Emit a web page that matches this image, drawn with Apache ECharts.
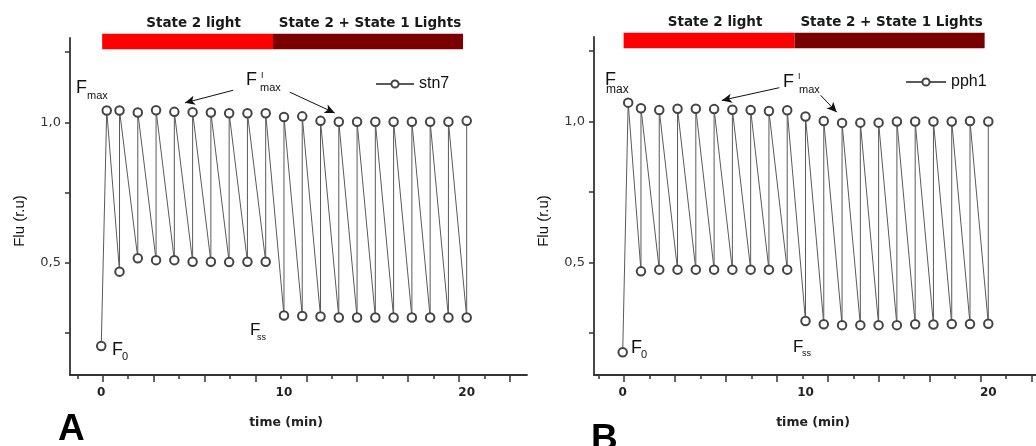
<!DOCTYPE html>
<html>
<head>
<meta charset="utf-8">
<script src="https://cdn.jsdelivr.net/npm/echarts@6/dist/echarts.min.js"></script>
<style>
html,body{margin:0;padding:0;background:#fff;}
#chart{width:1036px;height:446px;}
</style>
</head>
<body>
<div id="chart"></div>
<script>
// ---- data ----
const times = [1,2,3,4,5,6,7,8,9,10,11,12,13,14,15,16,17,18,19,20];
const fmaxTime = 0.3;

const stn7F0 = 0.203;
const stn7Fmax = 1.042;
const stn7Fs = [0.468,0.516,0.509,0.509,0.503,0.503,0.502,0.503,0.503,0.312,0.310,0.308,0.305,0.305,0.305,0.305,0.305,0.305,0.305,0.305];
const stn7Fm = [1.042,1.035,1.043,1.037,1.036,1.035,1.032,1.032,1.032,1.019,1.021,1.005,1.002,1.002,1.002,1.002,1.002,1.002,1.002,1.005];

const pph1F0 = 0.181;
const pph1Fmax = 1.067;
const pph1Fs = [0.468,0.474,0.474,0.474,0.474,0.474,0.474,0.474,0.474,0.292,0.280,0.277,0.277,0.277,0.277,0.280,0.279,0.281,0.281,0.282];
const pph1Fm = [1.047,1.041,1.045,1.045,1.044,1.042,1.041,1.037,1.040,1.018,1.002,0.995,0.996,0.996,1.000,1.000,1.000,1.000,1.002,1.000];

const lightLabels = ['State 2 light', 'State 2 + State 1 Lights'];
const lightStart = [0.05, 9.4];
const lightEnd = [9.4, 19.8];

const xLabelValues = [0, 10, 20];
const xMajorTicks = [0.08, 2.86, 5.65, 8.44, 11.22, 14.0, 16.79, 19.58, 22.36];
const xMinorTicks = [-1.31, 1.47, 4.26, 7.05, 9.83, 12.62, 15.4, 18.19, 20.98];
const yTickValues = [0.25, 0.5, 0.75, 1.0, 1.25];
const yLabelValues = [0.5, 1.0];

// annotation arrows [x1,y1,x2,y2] in data units
const stn7Arrows = [[7.22, 1.114, 4.58, 1.069], [10.32, 1.107, 12.78, 1.033]];
const pph1Arrows = [[8.57, 1.12, 5.42, 1.075], [10.83, 1.093, 11.71, 1.033]];

// ---- build ----
function buildData(f0, fmax, fs, fm) {
  const d = [[0, f0], [fmaxTime, fmax]];
  times.forEach((t, i) => { d.push([t, fs[i]]); d.push([t, fm[i]]); });
  return d;
}
const lightColors = ['#ff0000', '#7a0000'];
const lightData = lightLabels.map((l, i) => [lightStart[i], lightEnd[i], i]);

const chart = echarts.init(document.getElementById('chart'), null, {renderer: 'canvas'});

const axisColor = '#333';
function xAxes(gi, min, max) {
  return [
    {type: 'value', gridIndex: gi, min: min, max: max, position: 'bottom',
      axisLine: {show: true, onZero: false, lineStyle: {color: axisColor, width: 1.8}},
      axisTick: {show: true, customValues: xMajorTicks, length: 7, lineStyle: {color: axisColor, width: 1.5}},
      axisLabel: {show: true, customValues: xLabelValues, margin: 12, color: '#222',
        fontFamily: 'DejaVu Sans', fontWeight: 'bold', fontSize: 12},
      splitLine: {show: false}},
    {type: 'value', gridIndex: gi, min: min, max: max, position: 'bottom',
      axisLine: {show: false, onZero: false},
      axisTick: {show: true, customValues: xMinorTicks, length: 4, lineStyle: {color: axisColor, width: 1.5}},
      axisLabel: {show: false}, splitLine: {show: false}}
  ];
}
function yAxis(gi) {
  return {type: 'value', gridIndex: gi, min: 0.1, max: 1.3,
    axisLine: {show: true, onZero: false, lineStyle: {color: axisColor, width: 1.8}},
    axisTick: {show: true, customValues: yTickValues, length: 5, lineStyle: {color: axisColor, width: 1.5}},
    axisLabel: {show: true, customValues: yLabelValues, margin: 9, color: '#333',
      fontFamily: 'DejaVu Sans', fontSize: 13, formatter: v => v.toFixed(1).replace('.', ',')},
    splitLine: {show: false}};
}
function lineSeries(name, gi, data, arrows) {
  return {
    type: 'line', name: name, xAxisIndex: gi * 2, yAxisIndex: gi, data: data,
    symbol: 'emptyCircle', symbolSize: 8.5, showSymbol: true,
    lineStyle: {color: '#5a5a5a', width: 1},
    itemStyle: {color: '#444', borderWidth: 1.2},
    emphasis: {disabled: true},
    markLine: {silent: true, symbol: ['none', 'arrow'], symbolSize: [7, 10],
      label: {show: false}, lineStyle: {color: '#111', width: 1, type: 'solid'},
      emphasis: {disabled: true},
      data: arrows.map(a => [{coord: [a[0], a[1]]}, {coord: [a[2], a[3]]}])},
    animation: false
  };
}
function lightSeries(gi) {
  return {
    type: 'custom', xAxisIndex: gi * 2, yAxisIndex: gi, clip: false, silent: true,
    data: lightData,
    renderItem: function (params, api) {
      const i = api.value(2);
      const p0 = api.coord([api.value(0), 1.315]);
      const p1 = api.coord([api.value(1), 1.26]);
      return {type: 'group', children: [
        {type: 'rect', shape: {x: p0[0], y: p0[1], width: p1[0] - p0[0], height: p1[1] - p0[1]},
          style: {fill: lightColors[i]}},
        {type: 'text', style: {text: lightLabels[i], x: (p0[0] + p1[0]) / 2 + (i === 0 ? 6 : 2), y: p0[1] - 3,
          align: 'center', verticalAlign: 'bottom', fill: '#1a1a1a',
          font: 'bold 13.5px "DejaVu Sans"'}}
      ]};
    },
    animation: false
  };
}

function txt(x, y, text, size, opts) {
  return Object.assign({type: 'text', x: x, y: y, silent: true,
    style: Object.assign({text: text, fill: '#111', font: size + 'px "Liberation Sans"',
      textAlign: 'left', textVerticalAlign: 'middle'}, (opts && opts.style) || {})},
    opts && opts.rotation !== undefined ? {rotation: opts.rotation} : {});
}

const graphics = [
  // panel A
  txt(76, 88, 'F', 18), txt(87, 96, 'max', 11),
  txt(246, 80, 'F', 18), txt(261, 76, 'I', 9), txt(260, 88, 'max', 11),
  txt(112, 350, 'F', 18), txt(122, 357, '0', 11),
  txt(250, 330, 'F', 17), txt(257, 338, 'ss', 9),
  txt(20, 221, 'Flu (r.u)', 15, {rotation: Math.PI / 2, style: {textAlign: 'center'}}),
  txt(286, 423, 'time (min)', 12.5, {style: {textAlign: 'center', font: 'bold 12.5px "DejaVu Sans"', fill: '#222'}}),
  txt(58, 430, 'A', 37, {style: {font: 'bold 37px "Liberation Sans"', fill: '#000'}}),
  // panel B
  txt(605, 80, 'F', 18), txt(606, 90, 'max', 12),
  txt(783, 82, 'F', 18), txt(798, 77, 'I', 9), txt(799, 90, 'max', 11),
  txt(631, 348, 'F', 18), txt(641, 355, '0', 11),
  txt(793, 347, 'F', 17), txt(802, 354, 'ss', 9),
  txt(544, 221, 'Flu (r.u)', 15, {rotation: Math.PI / 2, style: {textAlign: 'center'}}),
  txt(813, 423, 'time (min)', 12.5, {style: {textAlign: 'center', font: 'bold 12.5px "DejaVu Sans"', fill: '#222'}}),
  txt(591, 440, 'B', 37, {style: {font: 'bold 37px "Liberation Sans"', fill: '#000'}})
];

const option = {
  animation: false,
  backgroundColor: '#fff',
  grid: [
    {left: 70, top: 38, width: 457, height: 337},
    {left: 594, top: 37, width: 442, height: 338}
  ],
  xAxis: [].concat(xAxes(0, -1.71, 23.3), xAxes(1, -1.57, 22.61)),
  yAxis: [yAxis(0), yAxis(1)],
  legend: [
    {data: ['stn7'], left: 375, top: 76, itemWidth: 38, itemHeight: 9, padding: 0,
      textStyle: {fontFamily: 'Liberation Sans', fontSize: 16, color: '#111'}, selectedMode: false},
    {data: ['pph1'], left: 905, top: 74, itemWidth: 40, itemHeight: 9, padding: 0,
      textStyle: {fontFamily: 'Liberation Sans', fontSize: 16, color: '#111'}, selectedMode: false}
  ],
  series: [
    lightSeries(0),
    lineSeries('stn7', 0, buildData(stn7F0, stn7Fmax, stn7Fs, stn7Fm), stn7Arrows),
    lightSeries(1),
    lineSeries('pph1', 1, buildData(pph1F0, pph1Fmax, pph1Fs, pph1Fm), pph1Arrows)
  ],
  graphic: graphics
};
chart.setOption(option);
</script>
</body>
</html>
